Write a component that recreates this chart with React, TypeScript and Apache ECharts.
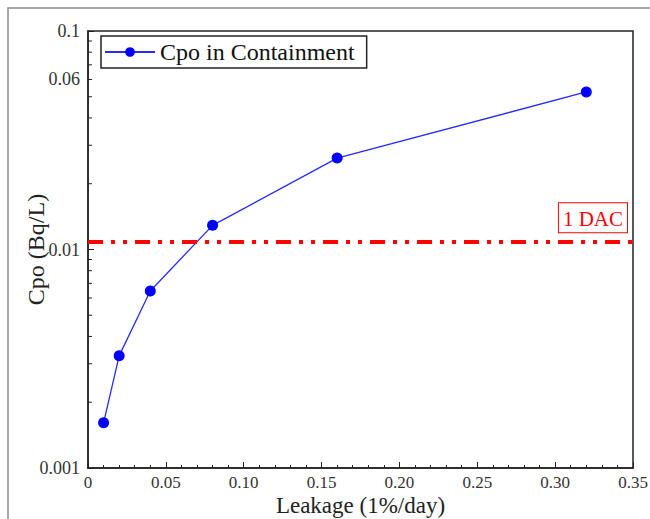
import React, { useEffect, useRef } from "react";
import * as echarts from "echarts";

const leakage = [0.01, 0.02, 0.04, 0.08, 0.16, 0.32];
const cpo = [0.00161, 0.00326, 0.00646, 0.0129, 0.0262, 0.0526];
const dacLevel = 0.0108;
const yMinorTicks = [
  0.002, 0.003, 0.004, 0.005, 0.006, 0.007, 0.008, 0.009,
  0.02, 0.03, 0.04, 0.05, 0.06, 0.07, 0.08, 0.09,
];
const yExtraLabels = [0.06];
const yExtraLabelText = ["0.06"];

const SERIF = "Liberation Serif";

export default function App() {
  const ref = useRef<HTMLDivElement>(null);
  useEffect(() => {
    const chart = echarts.init(ref.current!, null, { renderer: "svg" });
    chart.setOption({
      animation: false,
      backgroundColor: "#fff",
      textStyle: { fontFamily: SERIF },
      graphic: [
        {
          type: "rect",
          shape: { x: 8, y: 8, width: 700, height: 600 },
          style: { fill: "none", stroke: "#8a8a8a", lineWidth: 1.5 },
          silent: true,
        },
      ],
      grid: {
        left: 88,
        right: 17,
        top: 31,
        bottom: 51,
        show: true,
        borderColor: "#222",
        borderWidth: 1.5,
        backgroundColor: "transparent",
        outerBoundsMode: "none",
        containLabel: false,
      },
      legend: {
        data: ["Cpo in Containment"],
        left: 101,
        top: 36,
        itemWidth: 50,
        itemHeight: 12,
        itemGap: 5,
        padding: [4, 12, 4, 3],
        borderColor: "#222",
        borderWidth: 1.5,
        textStyle: { fontFamily: SERIF, fontSize: 24, color: "#111" },
      },
      xAxis: {
        type: "value",
        min: 0,
        max: 0.35,
        interval: 0.05,
        name: "Leakage (1%/day)",
        nameLocation: "middle",
        nameGap: 26,
        nameMoveOverlap: false,
        nameTextStyle: { fontFamily: SERIF, fontSize: 23, color: "#222" },
        axisLine: { show: true, lineStyle: { color: "#222", width: 1.5 } },
        axisTick: { show: true, inside: true, length: 6, lineStyle: { color: "#222" } },
        minorTick: { show: true, splitNumber: 5, length: 3, lineStyle: { color: "#222" } },
        splitLine: { show: false },
        axisLabel: {
          fontFamily: SERIF,
          fontSize: 17,
          color: "#333",
          margin: 6,
          formatter: (v: number) => (v === 0 ? "0" : v.toFixed(2)),
        },
      },
      yAxis: {
        type: "log",
        logBase: 10,
        min: 0.001,
        max: 0.1,
        name: "Cpo (Bq/L)",
        nameLocation: "middle",
        nameGap: 40,
        nameMoveOverlap: false,
        nameTextStyle: { fontFamily: SERIF, fontSize: 24, color: "#222" },
        axisLine: { show: true, lineStyle: { color: "#222", width: 1.5 } },
        axisTick: { show: true, inside: true, length: 6, lineStyle: { color: "#222" } },
        splitLine: { show: false },
        axisLabel: {
          fontFamily: SERIF,
          fontSize: 18,
          color: "#333",
          margin: 8,
          formatter: (v: number) => String(+v.toPrecision(1)),
        },
      },
      series: [
        {
          name: "Cpo in Containment",
          type: "line",
          data: leakage.map((x, i) => [x, cpo[i]]),
          symbol: "circle",
          symbolSize: 11,
          itemStyle: { color: "#0000ff" },
          lineStyle: { color: "#2a2aff", width: 1.3 },
          markLine: {
            silent: true,
            symbol: "none",
            precision: 5,
            data: [{ yAxis: dacLevel }],
            lineStyle: { color: "#ff0000", width: 4, type: [15, 8, 4, 8, 4, 8] },
            label: {
              show: true,
              position: "insideEndTop",
              formatter: "1 DAC",
              fontFamily: SERIF,
              fontSize: 21,
              color: "#ff0000",
              borderColor: "#ff0000",
              borderWidth: 1,
              padding: [5, 4, 3, 4],
              backgroundColor: "#fff",
              distance: [6, 10],
            },
          },
        },
        {
          name: "yMinor",
          type: "custom",
          data: yMinorTicks.map((v) => [0, v]),
          silent: true,
          clip: false,
          renderItem: (params: any, api: any) => {
            const v = api.value(1);
            const p = api.coord([0, v]);
            return {
              type: "line",
              shape: { x1: p[0], y1: p[1], x2: p[0] + 4, y2: p[1] },
              style: { stroke: "#222", lineWidth: 1 },
            };
          },
        },
        {
          name: "yExtra",
          type: "custom",
          data: yExtraLabels.map((v, i) => [0, v, i]),
          silent: true,
          clip: false,
          renderItem: (params: any, api: any) => {
            const v = api.value(1);
            const idx = api.value(2);
            const p = api.coord([0, v]);
            return {
              type: "text",
              x: p[0] - 8,
              y: p[1],
              style: {
                text: yExtraLabelText[idx],
                fontFamily: SERIF,
                fontSize: 18,
                fill: "#333",
                align: "right",
                verticalAlign: "middle",
              },
            };
          },
        },
      ],
    });
    return () => chart.dispose();
  }, []);
  return (
    <div
      ref={ref}
      style={{ position: "absolute", left: 0, top: 0, width: 650, height: 519 }}
    />
  );
}
